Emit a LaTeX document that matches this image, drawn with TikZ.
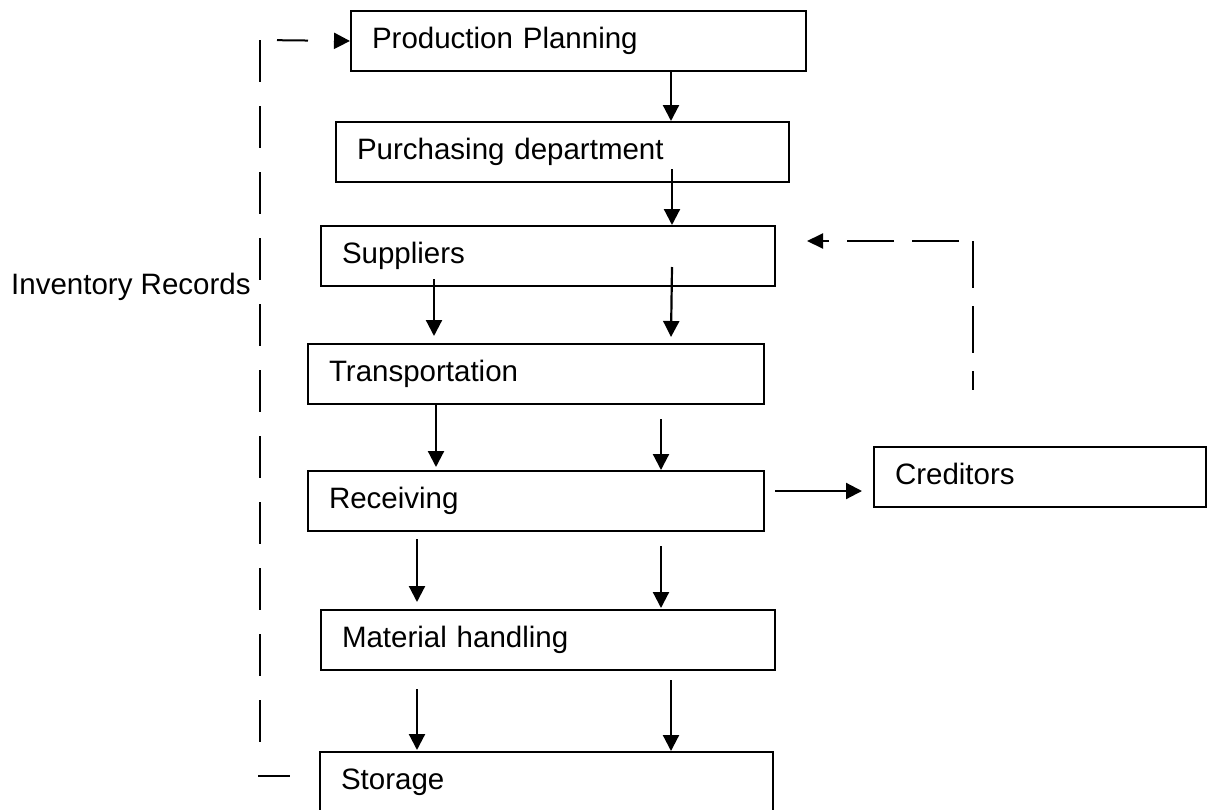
\documentclass[tikz,border=0pt]{standalone}
\usepackage{fontspec}
\setmainfont{Liberation Sans}
\usetikzlibrary{arrows.meta}
\tikzset{
  box/.style={draw, line width=2pt, anchor=north west, minimum height=60pt,
    inner xsep=21pt, inner ysep=0pt, align=left, text width=#1,
    font=\fontsize{29.5}{34}\selectfont, text height=21pt, text depth=6pt},
  arr/.style={line width=2.2pt, -{Triangle[length=16pt,width=16pt]}},
  dsh/.style={line width=2pt},
}
\begin{document}
\begin{tikzpicture}[x=1pt,y=-1pt]
\useasboundingbox (0,0) rectangle (1208,809);
% boxes
\node[box=413pt] (pp)   at (350,10)  {Production Planning};
\node[box=411pt] (pd)   at (335,121) {Purchasing department};
\node[box=412pt] (sup)  at (320,225) {Suppliers};
\node[box=414pt] (tr)   at (307,343) {Transportation};
\node[box=414pt] (rec)  at (307,470) {Receiving};
\node[box=412pt] (mat)  at (320,609) {Material handling};
\node[box=411pt] (sto)  at (319,751) {Storage};
\node[box=290pt] (cred) at (873,446) {Creditors};
\node[anchor=base west, inner sep=0pt, font=\fontsize{29.5}{34}\selectfont] (inv) at (11,294) {Inventory Records};
% solid arrows
\draw[arr] ([xshift=321pt]pp.south west) -- ([xshift=336pt]pd.north west);
\draw[arr] ([xshift=337pt,yshift=14pt]pd.south west) -- ([xshift=352pt]sup.north west);
\draw[arr] ([xshift=114pt,yshift=8pt]sup.south west) -- ([xshift=127pt,yshift=7pt]tr.north west);
\draw[arr] ([xshift=352pt,yshift=20pt]sup.south west) -- ([xshift=364pt,yshift=6pt]tr.north west);
\draw[arr] ([xshift=129pt]tr.south west) -- ([xshift=129pt,yshift=3pt]rec.north west);
\draw[arr] ([xshift=354pt,yshift=-14pt]tr.south west) -- ([xshift=354pt]rec.north west);
\draw[arr] ([xshift=110pt,yshift=-7pt]rec.south west) -- ([xshift=97pt,yshift=7pt]mat.north west);
\draw[arr] ([xshift=354pt,yshift=-14pt]rec.south west) -- ([xshift=341pt,yshift=1pt]mat.north west);
\draw[arr] ([xshift=97pt,yshift=-18pt]mat.south west) -- ([xshift=98pt,yshift=1pt]sto.north west);
\draw[arr] ([xshift=351pt,yshift=-9pt]mat.south west) -- ([xshift=352pt]sto.north west);
\draw[arr] ([xshift=10pt,yshift=-21pt]rec.north east) -- ([xshift=-11pt,yshift=-45pt]cred.north west);
% dashed inventory records loop
\coordinate (L1) at (260,40);
\coordinate (L2) at (260,745);
\coordinate (B1) at (258,776);
\coordinate (B2) at (290,776);
\draw[dsh, dash pattern=on 42pt off 24pt] (L1) -- (L2);
\draw[dsh, dash pattern=on 31pt off 26pt, dash phase=40pt, -{Triangle[length=16pt,width=16pt]}] (L1) -- (pp.west);
\draw[dsh] (B1) -- (B2);
% dashed feedback to suppliers
\coordinate (R1) at (973,390);
\coordinate (R2) at (973,241);
\draw[dsh, dash pattern=on 47pt off 18pt] (R2) -- (R1);
\draw[dsh, dash pattern=on 47pt off 18pt, dash phase=51pt, -{Triangle[length=16pt,width=15pt]}] (R2) -- ([xshift=31pt,yshift=-16pt]sup.north east);
\end{tikzpicture}
\end{document}
